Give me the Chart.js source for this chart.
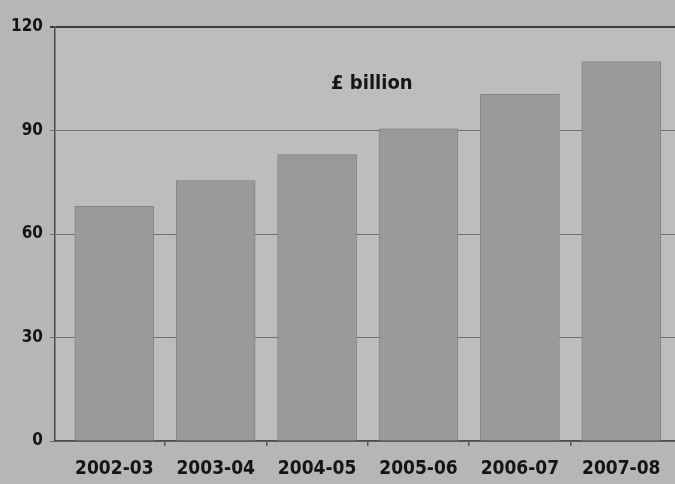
<!DOCTYPE html>
<html>
<head>
<meta charset="utf-8">
<script src="https://cdn.jsdelivr.net/npm/chart.js@4/dist/chart.umd.min.js"></script>
<style>
  html, body { margin: 0; padding: 0; background: #b7b7b7; }
  #wrap { width: 675px; height: 484px; }
</style>
</head>
<body>
<div id="wrap"><canvas id="c" width="675" height="484"></canvas></div>
<script>
// Public spending, £ billion, by financial year
const categories = ['2002-03', '2003-04', '2004-05', '2005-06', '2006-07', '2007-08'];
const spending = [68, 75.5, 83, 90.5, 100.5, 110];
const yTicks = [0, 30, 60, 90, 120];
const unitLabel = '£ billion';

const FONT = '"DejaVu Sans Condensed", "Liberation Sans Narrow", sans-serif';

const backdrop = {
  id: 'backdrop',
  beforeDraw(chart) {
    const { ctx, chartArea: a } = chart;
    ctx.save();
    ctx.fillStyle = '#b6b6b6';
    ctx.fillRect(0, 0, chart.width, chart.height);
    ctx.fillStyle = '#bdbdbd';
    ctx.fillRect(a.left, a.top, a.right - a.left, a.bottom - a.top);
    ctx.restore();
  }
};

const unitText = {
  id: 'unitText',
  afterDatasetsDraw(chart) {
    const { ctx, chartArea: a } = chart;
    ctx.save();
    ctx.font = 'bold 20px ' + FONT;
    ctx.fillStyle = '#151515';
    ctx.textAlign = 'center';
    ctx.textBaseline = 'middle';
    ctx.fillText(unitLabel, a.left + (a.right - a.left) * 0.511, a.top + (a.bottom - a.top) * 0.137);
    ctx.restore();
  }
};

new Chart(document.getElementById('c'), {
  type: 'bar',
  data: {
    datasets: [{
      data: spending.map((v, i) => ({ x: i, y: v })),
      backgroundColor: '#9a9a9a',
      borderColor: '#858585',
      borderWidth: 1,
      barThickness: 79
    }]
  },
  options: {
    responsive: false,
    animation: false,
    layout: { padding: { top: 27, right: 0, left: 0, bottom: 0 } },
    plugins: { legend: { display: false }, tooltip: { enabled: false } },
    scales: {
      x: {
        type: 'linear',
        offset: false,
        min: -0.585,
        max: 5.53,
        afterBuildTicks(scale) {
          const t = [];
          categories.forEach((c, i) => {
            t.push({ value: i });
            if (i < categories.length - 1) t.push({ value: i + 0.5 });
          });
          scale.ticks = t;
        },
        afterFit(scale) { scale.height = 43; },
        ticks: {
          autoSkip: false,
          maxRotation: 0,
          padding: 12,
          color: '#141414',
          font: { family: FONT, size: 19, weight: 'bold' },
          callback: (v) => Number.isInteger(v) ? categories[v] : ''
        },
        grid: {
          offset: false,
          drawOnChartArea: false,
          tickLength: 5,
          color: (ctx) => (ctx.tick && Number.isInteger(ctx.tick.value)) ? 'rgba(0,0,0,0)' : '#5a5a5a',
          lineWidth: 1.5
        },
        border: { display: true, color: '#4e4e4e', width: 1.5 }
      },
      y: {
        min: 0,
        max: 120,
        afterBuildTicks(scale) { scale.ticks = yTicks.map(v => ({ value: v })); },
        afterFit(scale) { scale.width = 55; },
        ticks: {
          padding: 7,
          color: '#141414',
          font: { family: FONT, size: 17, weight: 'bold' }
        },
        grid: {
          tickLength: 5,
          color: (ctx) => ctx.tick && ctx.tick.value === 120 ? '#3c3c3c' : '#6f6f6f',
          lineWidth: (ctx) => ctx.tick && ctx.tick.value === 120 ? 2 : 1
        },
        border: { display: true, color: '#4a4a4a', width: 1.5 }
      }
    }
  },
  plugins: [backdrop, unitText]
});
</script>
</body>
</html>
